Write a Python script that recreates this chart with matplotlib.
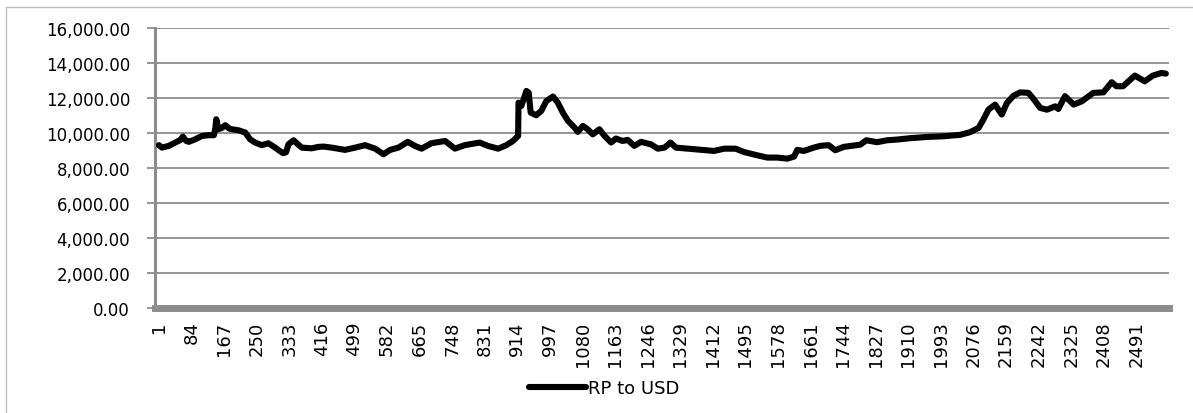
import numpy as np
import matplotlib
matplotlib.use("Agg")
import matplotlib.pyplot as plt
from matplotlib.patches import Rectangle
from matplotlib.ticker import FuncFormatter

obs = [1, 9, 26, 43, 56, 62, 70, 77, 94, 111, 128, 141, 145, 147, 150, 153,
       162, 170, 180, 187, 204, 221, 233, 246, 263, 280, 297, 310, 318, 325,
       331, 344, 355, 365, 390, 407, 420, 441, 475, 501, 526, 552, 573, 590,
       611, 635, 653, 670, 695, 730, 755, 780, 818, 839, 865, 886, 903, 916,
       917, 924, 930, 937, 943, 948, 962, 975, 988, 1005, 1017, 1030, 1043,
       1060, 1068, 1081, 1093, 1106, 1123, 1136, 1153, 1165, 1182, 1195,
       1212, 1229, 1254, 1272, 1289, 1304, 1318, 1348, 1381, 1415, 1441,
       1470, 1491, 1525, 1551, 1576, 1602, 1619, 1627, 1644, 1669, 1686,
       1707, 1724, 1745, 1771, 1788, 1803, 1830, 1856, 1881, 1915, 1958,
       2000, 2042, 2067, 2089, 2101, 2114, 2131, 2148, 2161, 2178, 2195,
       2216, 2229, 2246, 2263, 2284, 2292, 2309, 2331, 2352, 2381, 2407,
       2428, 2440, 2457, 2487, 2512, 2533, 2555, 2566]
rate = [9300, 9160, 9260, 9450, 9600, 9790, 9550, 9490, 9640, 9830, 9870,
        9870, 10300, 10780, 10500, 10210, 10300, 10440, 10250, 10210, 10150,
        10020, 9640, 9450, 9300, 9410, 9160, 8950, 8840, 8900, 9350, 9580,
        9350, 9160, 9120, 9200, 9220, 9160, 9030, 9160, 9300, 9100, 8780,
        9030, 9160, 9490, 9260, 9100, 9410, 9540, 9100, 9300, 9450, 9260,
        9100, 9300, 9540, 9830, 11730, 11540, 11920, 12400, 12300, 11160,
        11010, 11260, 11830, 12080, 11730, 11160, 10690, 10300, 10060, 10400,
        10210, 9920, 10210, 9830, 9450, 9680, 9540, 9600, 9260, 9490, 9350,
        9100, 9160, 9450, 9160, 9100, 9030, 8970, 9100, 9100, 8910, 8720,
        8590, 8590, 8530, 8650, 9030, 8970, 9160, 9260, 9300, 9010, 9200,
        9280, 9330, 9580, 9470, 9580, 9620, 9700, 9770, 9810, 9890, 10040,
        10290, 10760, 11330, 11620, 11050, 11710, 12130, 12320, 12290, 11940,
        11430, 11330, 11520, 11370, 12100, 11620, 11810, 12290, 12320, 12900,
        12670, 12670, 13280, 12950, 13280, 13430, 13390]

x_ticks = list(range(1, 2492, 83))
y_ticks = [0, 2000, 4000, 6000, 8000, 10000, 12000, 14000, 16000]
series_name = "RP to USD"

grid_col = "#8c8c8c"

fig = plt.figure(figsize=(11.93, 4.14), dpi=100)
ax = fig.add_axes([155 / 1193, 1 - 308.8 / 414, 1014 / 1193, (308.8 - 29) / 414])

ax.plot(obs, rate, color="black", linewidth=4.4, solid_joinstyle="round",
        solid_capstyle="round", label=series_name, zorder=3)

ax.set_xlim(-9, 2574)
ax.set_ylim(0, 16000)
ax.set_yticks(y_ticks)
ax.yaxis.set_major_formatter(FuncFormatter(lambda v, p: f"{v:,.2f}"))
ax.set_xticks(x_ticks)
ax.set_xticklabels([str(t) for t in x_ticks], rotation=90,
                   family=["Liberation Sans Narrow", "DejaVu Sans"],
                   fontsize=13)

ax.grid(axis="y", color=grid_col, linewidth=1.3, zorder=0)
for side in ["top", "right"]:
    ax.spines[side].set_visible(False)
ax.spines["left"].set_color(grid_col)
ax.spines["left"].set_linewidth(2.2)
ax.spines["bottom"].set_color(grid_col)
ax.spines["bottom"].set_linewidth(5)
ax.spines["bottom"].set_zorder(4)

ax.tick_params(axis="y", length=6, width=1.3, color=grid_col, pad=12,
               labelsize=12, labelcolor="black")
ax.tick_params(axis="x", length=0, pad=9, labelcolor="black")

fig.legend(loc="center", bbox_to_anchor=(604 / 1193, 1 - 389 / 414),
           frameon=False, fontsize=13, handlelength=3.2, handletextpad=0.1)

# light outer chart frame
fig.patches.append(Rectangle((6 / 1193, -0.2), 1.2, 0.2 + 1 - 8 / 414,
                             transform=fig.transFigure, fill=False,
                             edgecolor="#bdbdbd", linewidth=1))

fig.savefig("out.png", dpi=100)
